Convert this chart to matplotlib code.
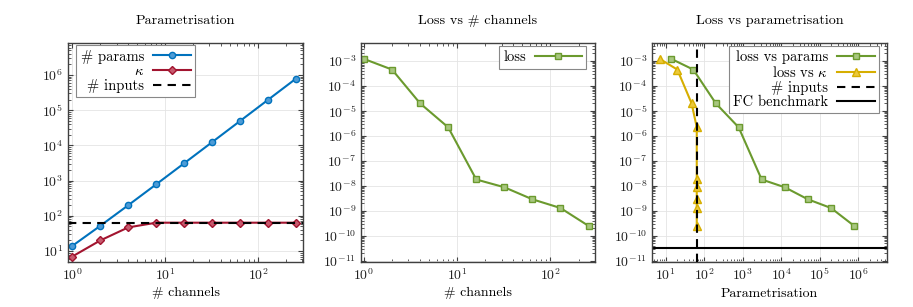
import numpy as np
import matplotlib.pyplot as plt
from matplotlib.ticker import LogLocator, FixedLocator

plt.rcParams['font.family'] = 'serif'
plt.rcParams['font.serif'] = ['cmr10', 'DejaVu Serif']
plt.rcParams['mathtext.fontset'] = 'cm'
plt.rcParams['axes.formatter.use_mathtext'] = True
plt.rcParams['font.size'] = 10

# data
channels = [1, 2, 4, 8, 16, 32, 64, 128, 256]
n_params = [14, 52, 200, 784, 3104, 12352, 49280, 196864, 786944]
kappa = [7, 20, 47, 64, 64, 64, 64, 64, 64]
n_inputs = 64
loss = [1.2e-3, 4.5e-4, 2.0e-5, 2.2e-6, 1.8e-8, 8.8e-9, 2.9e-9, 1.3e-9, 2.5e-10]
fc_benchmark = 3.3e-11

blue = '#0072BD'
red = '#A2142F'
green = '#6B9A2E'
yellow = '#D6AE00'
frame = '#404040'


def style(ax, xdec, ydec):
  ax.set_xscale('log')
  ax.set_yscale('log')
  ax.grid(True, which='major', color='#e4e4e4', linewidth=0.6)
  ax.set_axisbelow(True)
  ax.tick_params(which='both', direction='in', top=True, right=True, colors=frame, labelcolor='#222222')
  ax.tick_params(which='major', length=3.5)
  ax.tick_params(which='minor', length=2)
  ax.xaxis.set_major_locator(FixedLocator([10.0 ** d for d in xdec]))
  ax.yaxis.set_major_locator(FixedLocator([10.0 ** d for d in ydec]))
  ax.xaxis.set_minor_locator(LogLocator(base=10, subs=np.arange(2, 10), numticks=20))
  ax.yaxis.set_minor_locator(LogLocator(base=10, subs=np.arange(2, 10), numticks=20))
  for s in ax.spines.values():
    s.set_color(frame)
    s.set_linewidth(1.0)


def legend(ax, loc, anchor, hl=2.6):
  leg = ax.legend(loc=loc, bbox_to_anchor=anchor, markerfirst=False, fancybox=False,
                  edgecolor='#888888', framealpha=1, handlelength=hl, borderaxespad=0,
                  labelspacing=0.05, borderpad=0.3, handletextpad=0.6, fontsize=10.5)
  leg.get_frame().set_linewidth(0.8)


fig = plt.figure(figsize=(9.13, 3.07), dpi=100)
W, H = 913.0, 307.0
ax1 = fig.add_axes([68 / W, 1 - 262 / H, 235 / W, 219 / H])
ax2 = fig.add_axes([361 / W, 1 - 262 / H, 234 / W, 219 / H])
ax3 = fig.add_axes([652 / W, 1 - 262 / H, 235 / W, 219 / H])

# panel 1
style(ax1, range(0, 3), range(1, 7))
ax1.plot(channels, n_params, '-o', color=blue, lw=1.5, ms=4.5, mfc='#4d9bd6', mec=blue, mew=1, label='# params')
ax1.plot(channels, kappa, '-D', color=red, lw=1.5, ms=4, mfc='#c75a6e', mec=red, mew=1, label=r'$\kappa$')
ax1.axhline(n_inputs, color='black', ls=(0, (4, 3)), lw=1.5, label='# inputs')
ax1.set_xlim(0.9, 305)
ax1.set_ylim(4.9, 8.1e6)
ax1.set_title('Parametrisation', pad=14, fontsize=10.2)
ax1.set_xlabel('# channels', labelpad=3)
legend(ax1, 'upper left', (0.035, 0.99))

# panel 2
style(ax2, range(0, 3), range(-11, -2))
ax2.plot(channels, loss, '-s', color=green, lw=1.5, ms=4.5, mfc='#a8c77f', mec=green, mew=1, label='loss')
ax2.set_xlim(0.93, 300)
ax2.set_ylim(9e-12, 5.2e-3)
ax2.set_title('Loss vs # channels', pad=14, fontsize=10.2)
ax2.set_xlabel('# channels', labelpad=3)
legend(ax2, 'upper right', (0.962, 0.986), hl=3.2)

# panel 3
style(ax3, range(1, 7), range(-11, -2))
ax3.plot(n_params, loss, '-s', color=green, lw=1.5, ms=4.5, mfc='#a8c77f', mec=green, mew=1, label='loss vs params')
ax3.plot(kappa, loss, '-^', color=yellow, lw=1.5, ms=5.5, mfc='#ecc93a', mec=yellow, mew=1, label=r'loss vs $\kappa$')
ax3.axvline(n_inputs, color='black', ls=(0, (4, 3)), lw=1.5, label='# inputs', zorder=3)
ax3.axhline(fc_benchmark, color='black', lw=1.5, label='FC benchmark')
ax3.set_xlim(4.4, 5.6e6)
ax3.set_ylim(9e-12, 5.2e-3)
ax3.set_title('Loss vs parametrisation', pad=14, fontsize=10.2)
ax3.set_xlabel('Parametrisation', labelpad=3)
legend(ax3, 'upper right', (0.966, 0.986))

fig.savefig('out.png', dpi=100)
